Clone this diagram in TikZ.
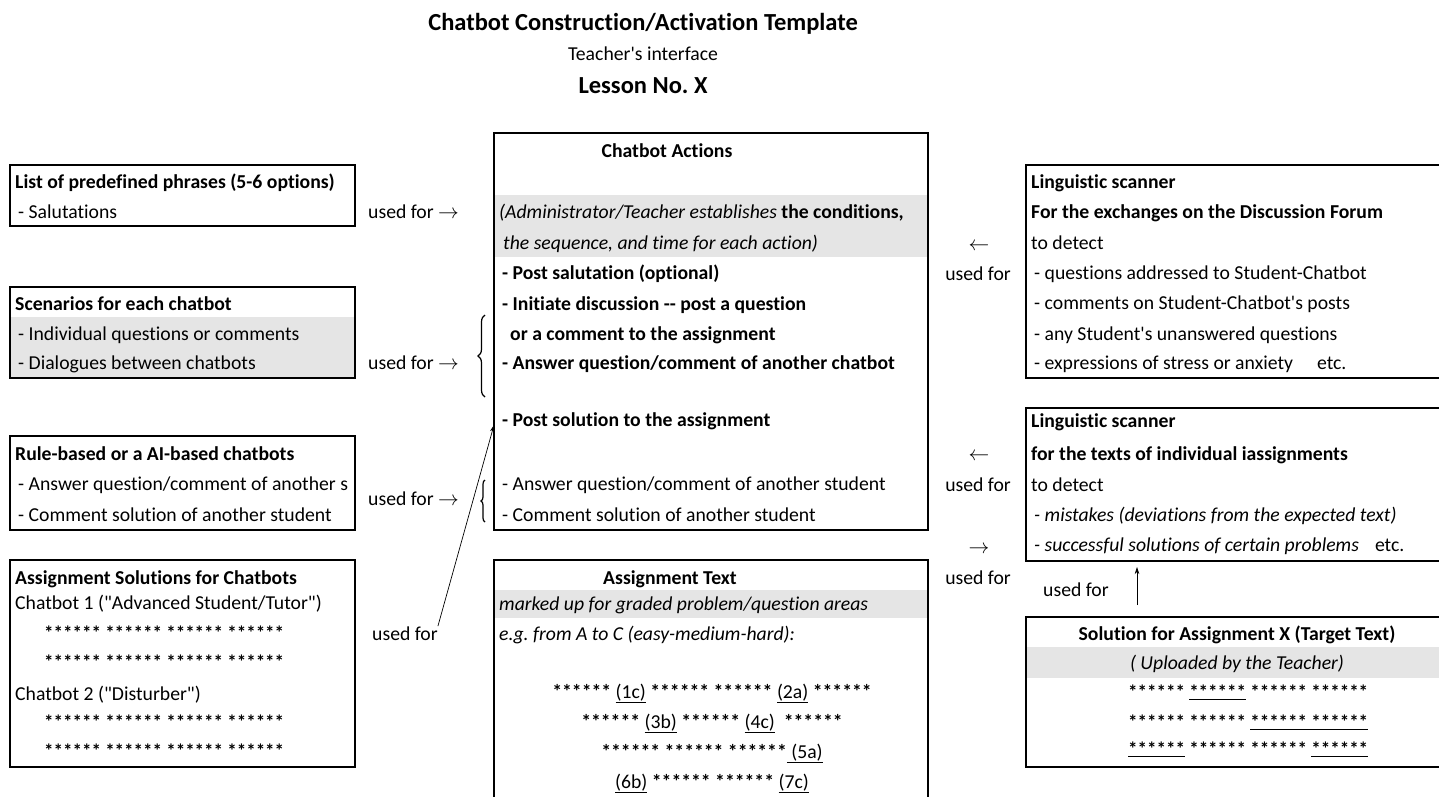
\documentclass[tikz,border=0pt]{standalone}
\usepackage{fontspec}
\setmainfont{Carlito}[Ligatures={TeXOff,NoCommon}]
\usetikzlibrary{decorations.pathreplacing,arrows.meta}
\begin{document}
\frenchspacing
\begin{tikzpicture}[x=1pt,y=-1pt,
  box/.style={draw=black,line width=1.8pt,anchor=north west,inner sep=0pt,outer sep=0pt},
  band/.style={fill=black!10,draw=none,anchor=north west,inner sep=0pt,outer sep=0pt},
  txt/.style={anchor=base west,inner sep=0pt,font=\fontsize{19.7}{22}\selectfont},
  ctxt/.style={anchor=base,inner sep=0pt,font=\fontsize{19.7}{22}\selectfont},
  btxt/.style={txt,font=\fontsize{19.7}{22}\selectfont\bfseries},
  itxt/.style={txt,font=\fontsize{19.7}{22}\selectfont\itshape},
  stars/.style={inner sep=0pt,font=\fontsize{19}{22}\selectfont\bfseries},
  arr/.style={line width=0.7pt,-{Stealth[length=7pt,width=4.5pt]}},
  brc/.style={line width=1.2pt,decorate,decoration={brace,amplitude=#1}}
]
\useasboundingbox (0,0) rectangle (1439,796);
\clip (0,0) rectangle (1439,796);

% title
\node[ctxt,font=\fontsize{24.5}{28}\selectfont\bfseries] (title) at (643,30) {Chatbot Construction/Activation Template};
\node[ctxt] (sub) at (643,60) {Teacher's interface};
\node[ctxt,font=\fontsize{24.5}{28}\selectfont\bfseries] (lesson) at (643,93) {Lesson No. X};

% gray bands
\node[band,minimum width=345pt,minimum height=61pt] (g2) at (10,317) {};
\node[band,minimum width=434pt,minimum height=62pt] (gm) at (494,195) {};
\node[band,minimum width=434pt,minimum height=28pt] (ga) at (494,590) {};
\node[band,minimum width=430pt,minimum height=31pt] (gr) at (1026,647) {};

% left boxes
\node[box,minimum width=345pt,minimum height=61pt] (b1) at (10,165) {};
\node[btxt] (b1a) at (15,188) {List of predefined phrases (5-6 options)};
\node[txt] (b1b) at (18,218) {- Salutations};

\node[box,minimum width=345pt,minimum height=91pt] (b2) at (10,287) {};
\node[btxt] (b2a) at (15,310) {Scenarios for each chatbot};
\node[txt] (b2b) at (18,340) {- Individual questions or comments};
\node[txt] (b2c) at (18,369) {- Dialogues between chatbots};

\begin{scope}
\clip (10,436) rectangle (355,530);
\node[txt] (b3b) at (18,490) {- Answer question/comment of another s};
\end{scope}
\node[box,minimum width=345pt,minimum height=94pt] (b3) at (10,436) {};
\node[btxt] (b3a) at (15,460) {Rule-based or a AI-based chatbots};
\node[txt] (b3c) at (18,521) {- Comment solution of another student};

\node[box,minimum width=345pt,minimum height=207pt] (b4) at (10,560) {};
\node[btxt] (b4a) at (15,584) {Assignment Solutions for Chatbots};
\node[txt] (b4b) at (15,609) {Chatbot 1 ("Advanced Student/Tutor")};
\node[txt,stars] (b4c) at (44,639) {****** ****** ****** ******};
\node[txt,stars] (b4d) at (44,668) {****** ****** ****** ******};
\node[txt] (b4e) at (15,700) {Chatbot 2 ("Disturber")};
\node[txt,stars] (b4f) at (44,728) {****** ****** ****** ******};
\node[txt,stars] (b4g) at (44,757) {****** ****** ****** ******};

% used for (left)
\node[txt] (uf1) at (368,218) {used for $\rightarrow$};
\node[txt] (uf2) at (368,369) {used for $\rightarrow$};
\node[txt] (uf3) at (368,505) {used for $\rightarrow$};
\node[txt] (uf4) at (372,640) {used for};

% braces
\draw[brc=7pt] (485,397) -- (485,315);
\draw[brc=4pt] (485,522) -- (485,480);

% middle box
\node[box,minimum width=434pt,minimum height=397pt] (mb) at (494,133) {};
\node[ctxt,font=\fontsize{19.7}{22}\selectfont\bfseries] (mt) at (667,157) {Chatbot Actions};
\node[itxt] (m1) at (499,218) {(Administrator/Teacher establishes \textbf{\upshape the conditions,}};
\node[itxt] (m2) at (503,249) {the sequence, and time for each action)};
\node[btxt] (m3) at (502,279) {- Post salutation (optional)};
\node[btxt] (m4) at (502,310) {- Initiate discussion -- post a question};
\node[btxt] (m5) at (510,340) {or a comment to the assignment};
\node[btxt] (m6) at (502,369) {- Answer question/comment of another chatbot};
\node[btxt] (m7) at (502,426) {- Post solution to the assignment};
\node[txt] (m8) at (502,490) {- Answer question/comment of another student};
\node[txt] (m9) at (502,521) {- Comment solution of another student};

\coordinate (ps) at (494,425);
\draw[arr] (uf4.north east) -- (ps);

% assignment text box
\node[box,minimum width=434pt,minimum height=260pt] (ab) at (494,560) {};
\node[ctxt,font=\fontsize{19.7}{22}\selectfont\bfseries] (at) at (670,584) {Assignment Text};
\node[itxt] (a1) at (499,610) {marked up for graded problem/question areas};
\node[itxt] (a2) at (499,640) {e.g. from A to C (easy-medium-hard):};
\node[ctxt] (a3) at (712,698) {{\bfseries******} \underline{(1c)} {\bfseries****** ******} \underline{(2a)} {\bfseries******}};
\node[ctxt] (a4) at (712,728) {{\bfseries******} \underline{(3b)} {\bfseries******} \underline{(4c)}\ \ {\bfseries******}};
\node[ctxt] (a5) at (712,758) {{\bfseries****** ****** ******}\underline{\ (5a)}};
\node[ctxt] (a6) at (712,788) {\underline{(6b)} {\bfseries****** ******} \underline{(7c)}};

% right side
\node[ctxt] (la1) at (979,250) {$\leftarrow$};
\node[ctxt] (lu1) at (978,280) {used for};
\node[box,minimum width=430pt,minimum height=213pt] (r1) at (1026,165) {};
\node[btxt] (r1a) at (1031,188) {Linguistic scanner};
\node[btxt] (r1b) at (1031,218) {For the exchanges on the Discussion Forum};
\node[txt] (r1c) at (1031,249) {to detect};
\node[txt] (r1d) at (1034,279) {- questions addressed to Student-Chatbot};
\node[txt] (r1e) at (1034,309) {- comments on Student-Chatbot's posts};
\node[txt] (r1f) at (1034,340) {- any Student's unanswered questions};
\node[txt] (r1g) at (1034,369) {- expressions of stress or anxiety\hspace{24pt}etc.};

\node[ctxt] (la2) at (979,460) {$\leftarrow$};
\node[ctxt] (lu2) at (978,491) {used for};
\node[ctxt] (ra3) at (979,553) {$\rightarrow$};
\node[ctxt] (lu3) at (978,584) {used for};
\node[box,minimum width=430pt,minimum height=153pt] (r2) at (1026,408) {};
\node[btxt] (r2a) at (1031,427) {Linguistic scanner};
\node[btxt] (r2b) at (1031,460) {for the texts of individual iassignments};
\node[txt] (r2c) at (1031,491) {to detect};
\node[itxt] (r2d) at (1034,521) {- mistakes (deviations from the expected text)};
\node[itxt] (r2e) at (1034,551) {- successful solutions of certain problems\hspace{16pt}\upshape etc.};

\node[txt] (lu4) at (1043,596) {used for};
\coordinate (va) at (1137,605);
\draw[arr,shorten >=6pt] (va) -- (va |- r2.south);

\node[box,minimum width=430pt,minimum height=150pt] (r3) at (1026,617) {};
\node[ctxt,font=\fontsize{19.7}{22}\selectfont\bfseries] (r3a) at (1237,640) {Solution for Assignment X (Target Text)};
\node[ctxt,font=\fontsize{19.7}{22}\selectfont\itshape] (r3b) at (1237,669) {( Uploaded by the Teacher)};
\node[txt,stars] (r3c) at (1128,698) {****** \underline{******} ****** ******};
\node[txt,stars] (r3d) at (1128,728) {****** ****** \underline{****** ******}};
\node[txt,stars] (r3e) at (1128,755) {\underline{******} ****** ****** \underline{******}};
\end{tikzpicture}
\end{document}
